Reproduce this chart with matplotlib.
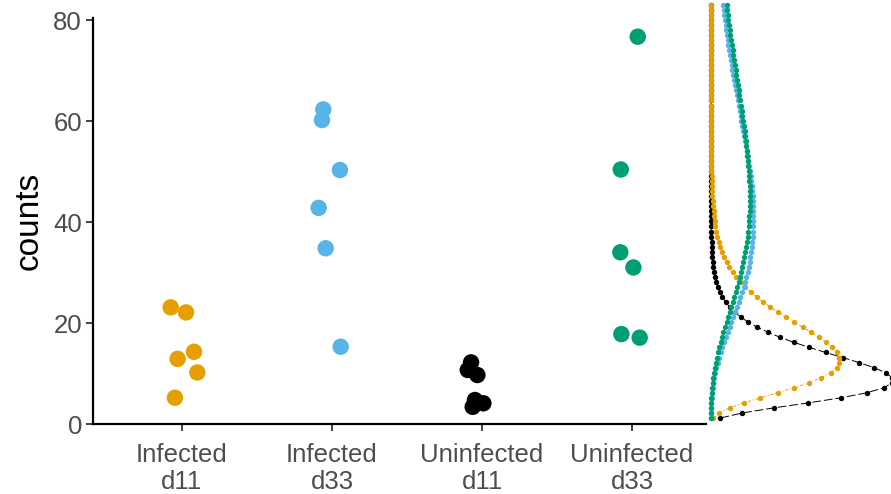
import math

import matplotlib
matplotlib.use("Agg")
import matplotlib.pyplot as plt
import numpy as np

plt.rcParams["font.family"] = ["Liberation Sans", "DejaVu Sans"]

# groups, in plotting order
groups = ["Infected\nd11", "Infected\nd33", "Uninfected\nd11", "Uninfected\nd33"]
colors = ["#E69F00", "#56B4E9", "#000000", "#009E73"]

# counts per group
infected_d11 = [23.1, 22.1, 14.3, 12.9, 10.2, 5.2]
infected_d33 = [62.3, 60.2, 50.3, 42.8, 34.8, 15.3]
uninfected_d11 = [12.2, 10.7, 9.7, 4.75, 4.1, 3.4]
uninfected_d33 = [76.7, 50.4, 34.0, 31.0, 17.8, 17.1]

# horizontal jitter of each point (category units)
jitter_inf_d11 = [-0.075, 0.027, 0.080, -0.029, 0.102, -0.047]
jitter_inf_d33 = [-0.058, -0.067, 0.053, -0.089, -0.042, 0.058]
jitter_uninf_d11 = [-0.073, -0.095, -0.031, -0.047, 0.009, -0.062]
jitter_uninf_d33 = [0.038, -0.075, -0.078, 0.009, -0.071, 0.051]

# fitted negative binomial per group, shown in the right margin
nb_mean = [15, 50, 10, 55]
nb_size = [5, 5, 5, 5]
max_count = 82

values = [infected_d11, infected_d33, uninfected_d11, uninfected_d33]
jitters = [jitter_inf_d11, jitter_inf_d33, jitter_uninf_d11, jitter_uninf_d33]


def nb_pmf(k, mu, size):
    p = size / (size + mu)
    out = []
    for kk in k:
        lp = (math.lgamma(kk + size) - math.lgamma(size) - math.lgamma(kk + 1)
              + size * math.log(p) + kk * math.log(1 - p))
        out.append(math.exp(lp))
    return np.array(out)


W, H = 891, 494
fig = plt.figure(figsize=(W / 100, H / 100), dpi=100)

# main strip chart
ax = fig.add_axes([93 / W, 1 - 424 / H, (706 - 93) / W, (424 - 18) / H])
for i, (vals, jit, col) in enumerate(zip(values, jitters, colors)):
    xs = [i + 1 + j for j in jit]
    ax.scatter(xs, vals, s=140, color=col, edgecolors="none", zorder=3)

ax.set_xlim(0.407, 4.493)
ax.set_ylim(0, 80.4)
ax.set_xticks(range(1, 5))
ax.set_xticklabels(groups, fontsize=18.5, color="#4D4D4D", linespacing=1.12)
ax.set_yticks([0, 20, 40, 60, 80])
ax.tick_params(axis="y", labelsize=18.5, labelcolor="#4D4D4D", length=5, width=1.3, color="#333333", pad=3)
ax.tick_params(axis="x", length=5, width=1.3, color="#333333", pad=9)
ax.set_ylabel("counts", fontsize=24, labelpad=6)
for side in ["top", "right"]:
    ax.spines[side].set_visible(False)
for side in ["left", "bottom"]:
    ax.spines[side].set_linewidth(1.6)

# marginal distributions
counts = np.arange(0, max_count + 1)
px_per_count = 5.04
mx = fig.add_axes([711 / W, 1 - 424 / H, (W - 711) / W, 424 / H])
mx.set_ylim(-6 / px_per_count, -6 / px_per_count + 424 / px_per_count)
mx.set_xlim(0, (W - 711) / 2280)
mx.axis("off")
mx.patch.set_alpha(0)

styles = {0: (0, (3, 2, 1, 2)), 1: (0, (4, 2)), 2: (0, (9, 3)), 3: (0, (4, 2))}
for i in [2, 0, 1, 3]:
    dens = nb_pmf(counts, nb_mean[i], nb_size[i])
    mx.plot(dens, counts, color=colors[i], lw=0.7, linestyle=styles[i], clip_on=False, zorder=2)
    mx.plot(dens, counts, "o", color=colors[i], ms=3.9, mec="none", clip_on=False, zorder=3)

fig.savefig("out.png", dpi=100)
